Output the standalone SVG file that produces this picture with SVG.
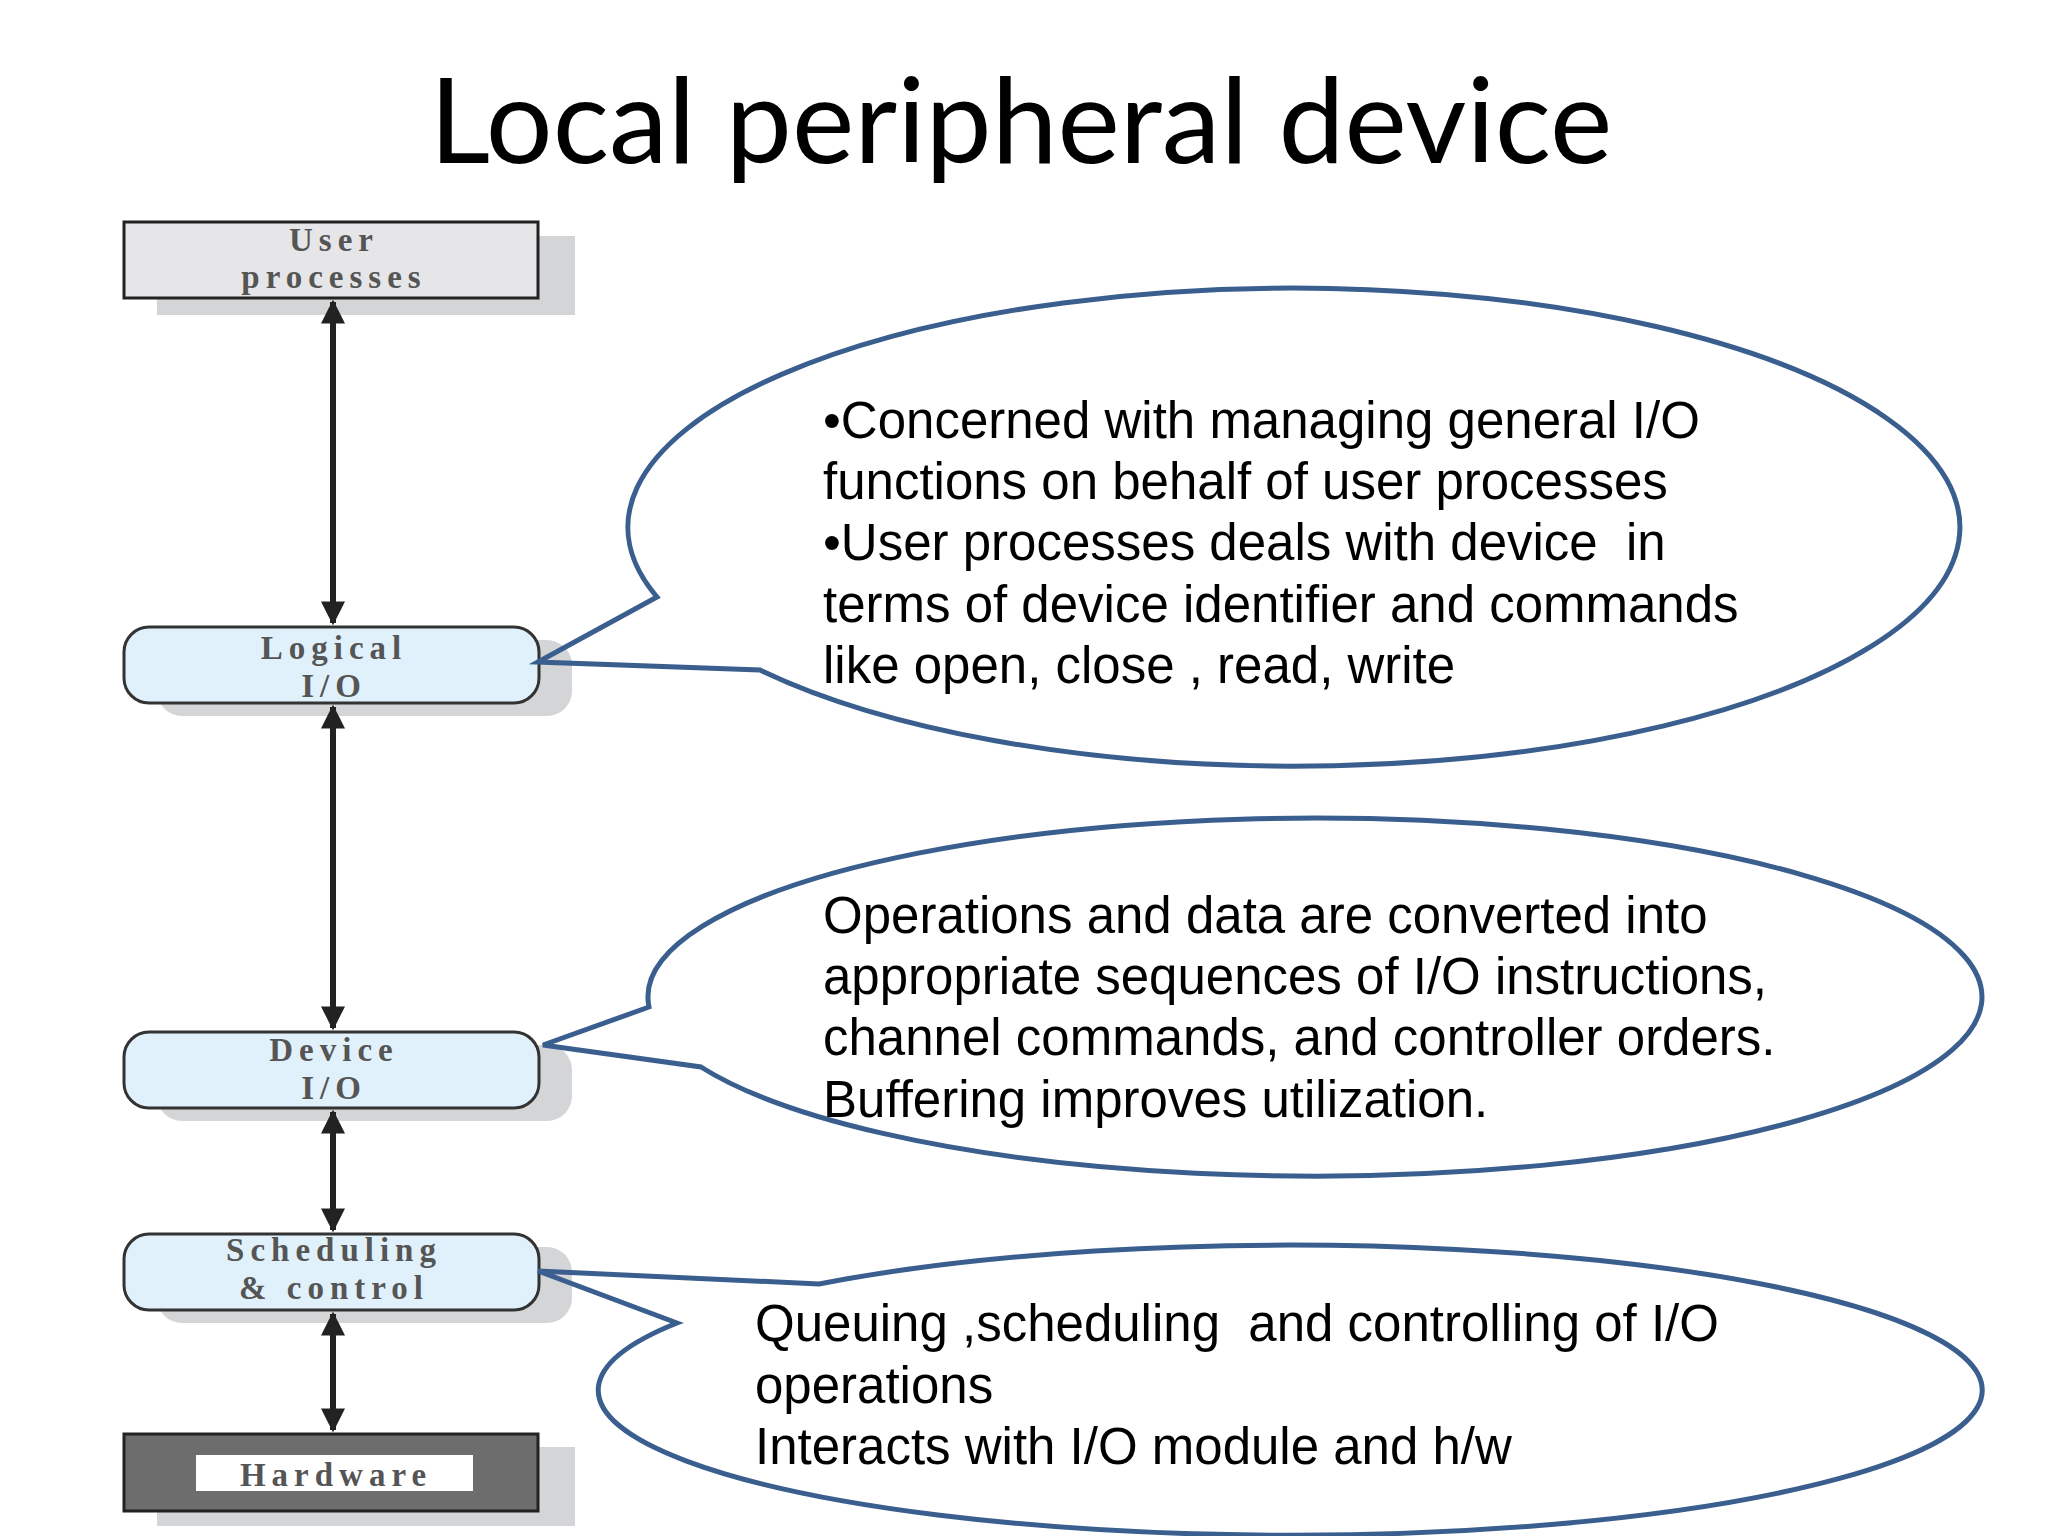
<svg xmlns="http://www.w3.org/2000/svg" width="2048" height="1536" viewBox="0 0 2048 1536">
<style>
.sh{fill:#d4d5d7}
.rn{fill:#e0f1fb;stroke:#333;stroke-width:3}
.nt{font-family:"Liberation Serif",serif;font-size:33px;font-weight:bold;fill:#555;text-anchor:middle;letter-spacing:6px}
.bt{font-family:"Liberation Sans",Arial,sans-serif;font-size:51px;fill:#000;white-space:pre}
.cl{fill:none;stroke:#3a5f8f;stroke-width:5}
.ar{stroke:#222;stroke-width:6;marker-start:url(#ah);marker-end:url(#ah)}
</style>
<defs>
<marker id="ah" viewBox="0 0 10 10" refX="9" refY="5" markerWidth="4" markerHeight="4" orient="auto-start-reverse" markerUnits="strokeWidth"><path d="M0,0L10,5L0,10z" fill="#222"/></marker>
</defs>
<rect width="2048" height="1536" fill="#fff"/>
<text x="1021" y="163" font-family="Lato,sans-serif" font-size="118" text-anchor="middle" fill="#000">Local peripheral device</text>
<g id="user"><rect class="sh" x="157" y="236" width="418" height="79"/><rect x="124" y="222" width="414" height="76" fill="#e6e6e8" stroke="#222" stroke-width="3"/><text class="nt" x="334" y="251">User</text><text class="nt" x="334" y="288">processes</text></g>
<g id="logical"><rect class="sh" x="157" y="640" width="415" height="76" rx="25"/><rect class="rn" x="124" y="627" width="415" height="76" rx="25"/><text class="nt" x="334" y="659">Logical</text><text class="nt" x="334" y="697">I/O</text></g>
<g id="device"><rect class="sh" x="157" y="1045" width="415" height="76" rx="25"/><rect class="rn" x="124" y="1032" width="415" height="76" rx="25"/><text class="nt" x="334" y="1061">Device</text><text class="nt" x="334" y="1099">I/O</text></g>
<g id="sched"><rect class="sh" x="157" y="1247" width="415" height="76" rx="25"/><rect class="rn" x="124" y="1234" width="415" height="76" rx="25"/><text class="nt" x="334" y="1261">Scheduling</text><text class="nt" x="334" y="1299">&amp; control</text></g>
<g id="hardware"><rect class="sh" x="157" y="1447" width="418" height="79"/><rect x="124" y="1434" width="414" height="77" fill="#6d6d6d" stroke="#222" stroke-width="3"/><rect x="196" y="1455" width="277" height="36" fill="#fff"/><text class="nt" x="336" y="1486">Hardware</text></g>
<g id="connectors">
<line class="ar" x1="333" y1="302" x2="333" y2="623"/>
<line class="ar" x1="333" y1="707" x2="333" y2="1028"/>
<line class="ar" x1="333" y1="1112" x2="333" y2="1230"/>
<line class="ar" x1="333" y1="1314" x2="333" y2="1430"/>
</g>
<g id="callout1"><path class="cl" d="M538,662 L657,597 A666,239 0 1 1 760,670 Z"/>
<text class="bt" x="823" y="438">•Concerned with managing general I/O</text>
<text class="bt" x="823" y="499">functions on behalf of user processes</text>
<text class="bt" x="823" y="560">•User processes deals with device  in</text>
<text class="bt" x="823" y="622">terms of device identifier and commands</text>
<text class="bt" x="823" y="683">like open, close , read, write</text></g>
<g id="callout2"><path class="cl" d="M543,1045 L649,1007 A667,179 0 1 1 701,1067 Z"/>
<text class="bt" x="823" y="933">Operations and data are converted into</text>
<text class="bt" x="823" y="994">appropriate sequences of I/O instructions,</text>
<text class="bt" x="823" y="1055">channel commands, and controller orders.</text>
<text class="bt" x="823" y="1117">Buffering improves utilization.</text></g>
<g id="callout3"><path class="cl" d="M538,1271 L819,1284 A692,145 0 1 1 677,1323 Z"/>
<text class="bt" x="755" y="1341">Queuing ,scheduling  and controlling of I/O</text>
<text class="bt" x="755" y="1403">operations</text>
<text class="bt" x="755" y="1464">Interacts with I/O module and h/w</text></g>
</svg>
